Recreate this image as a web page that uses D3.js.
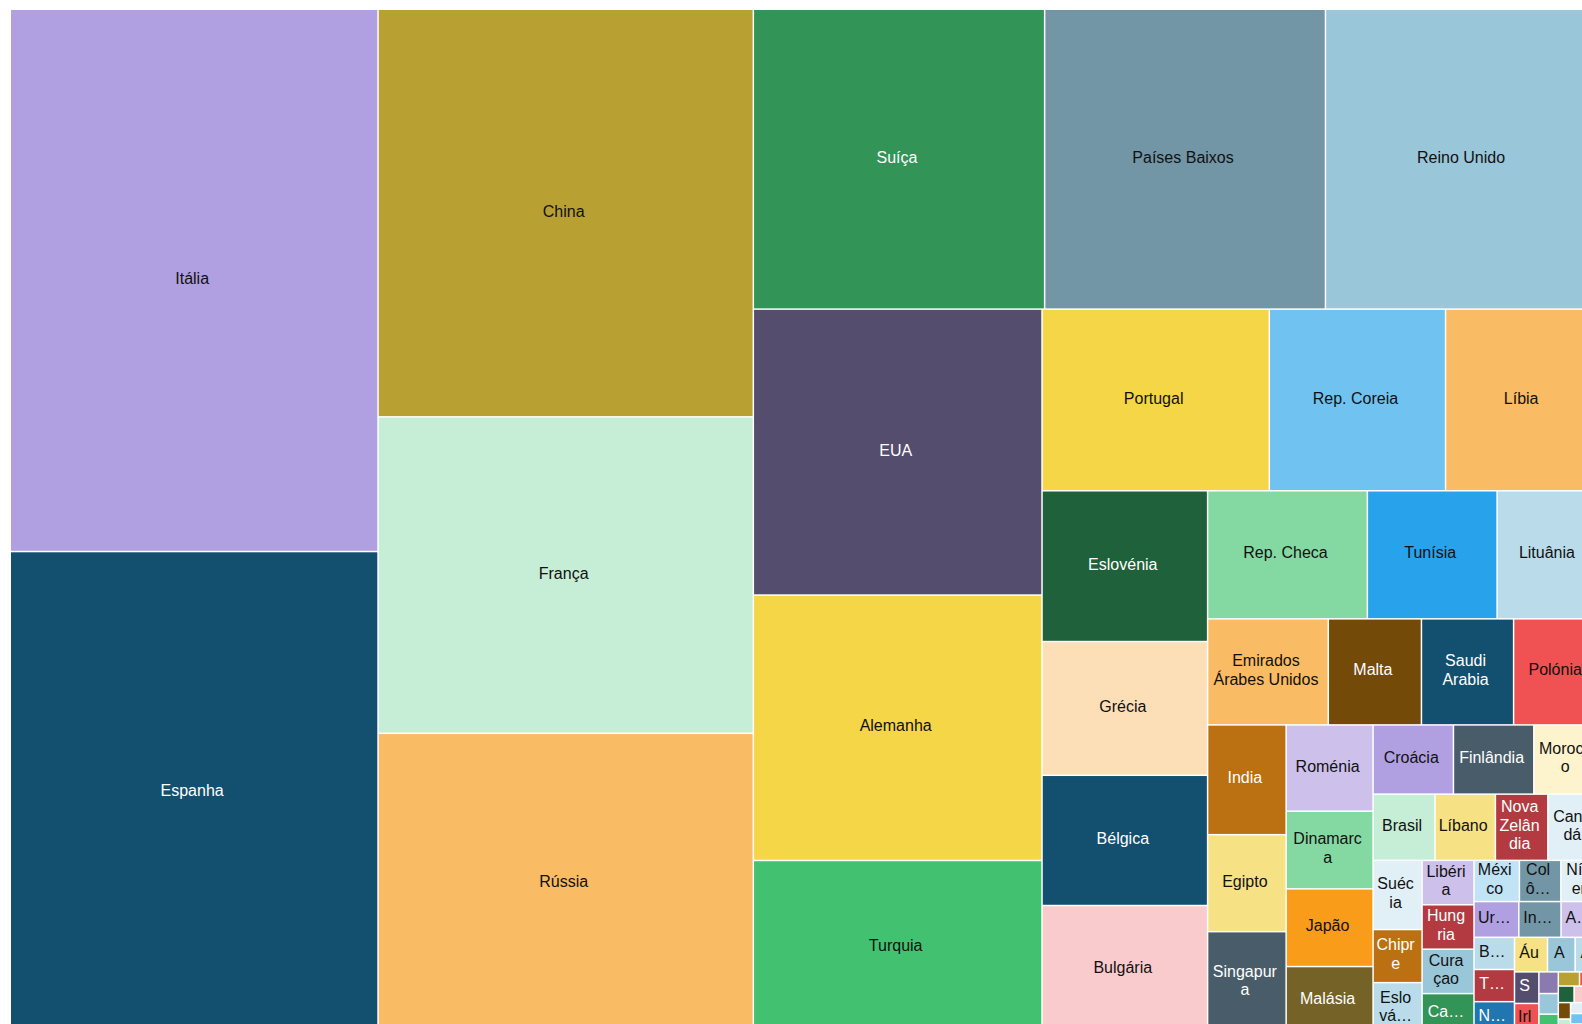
<!DOCTYPE html>
<html>
<head>
<meta charset="utf-8">
<style>
  body { margin: 0; background: #fff; overflow: hidden; }
  svg { display: block; }
  text { font-family: Arial, "Liberation Sans", Helvetica, sans-serif; font-size: 16px; }
</style>
</head>
<body>
<svg width="1582" height="1024"></svg>
<script src="https://cdn.jsdelivr.net/npm/d3@7/dist/d3.min.js"></script>
<script>
var countries = [
  "Itália", "Espanha", "China", "França", "Rússia",
  "Suíça", "Países Baixos", "Reino Unido",
  "EUA", "Alemanha", "Turquia",
  "Portugal", "Rep. Coreia", "Líbia",
  "Eslovénia", "Grécia", "Bélgica", "Bulgária",
  "Rep. Checa", "Tunísia", "Lituânia",
  "Emirados Árabes Unidos", "Malta", "Saudi Arabia", "Polónia",
  "India", "Egipto", "Singapura",
  "Roménia", "Dinamarca", "Japão", "Malásia",
  "Croácia", "Finlândia", "Morocco",
  "Brasil", "Líbano", "Nova Zelândia", "Canadá",
  "Suécia", "Chipre", "Eslováquia",
  "Libéria", "Hungria", "Curaçao", "Cazaquistão",
  "México", "Colômbia", "Níger",
  "Uruguai", "Indonésia", "Argentina",
  "Bósnia", "Tailândia", "Noruega",
  "Áustria", "Angola", "Argélia",
  "Sérvia", "Irlanda",
  "Peru", "Chile", "Qatar", "Israel", "Islândia", "Luxemburgo", "Estónia", "Letónia",
  "Cuba", "Kuwait", "Omã", "Andorra", "Mónaco", "Jordânia", "Quénia", "Gana"
];

var values = [
  199000, 176950, 152625, 118500, 112500,
  87155, 84010, 82364,
  82367, 76453, 49911,
  41200, 31944, 28133,
  24908, 22094, 21515, 21184,
  20416, 16576, 13248,
  12773, 9858, 9752, 9222,
  8600, 7600, 8000,
  7482, 6740, 6740, 5829,
  5550, 5550, 4623,
  4092, 3993, 3465, 3498,
  3381, 2597, 2499,
  2300, 2300, 2300, 2080,
  1866, 1702, 1640,
  1600, 1505, 1418,
  1300, 1300, 1296,
  1139, 952, 884,
  768, 737,
  420, 400, 380, 300, 300, 260, 240, 200,
  200, 180, 170, 160, 160, 150, 150, 150
];

var colors = [
  "#b0a0e1", "#134f6f", "#b8a033", "#c6edd5", "#f9bb63",
  "#329457", "#7296a6", "#9ac6d9",
  "#544d6d", "#f4d647", "#42c270",
  "#f4d647", "#70c3f0", "#f9bb63",
  "#1e613a", "#fcdfb7", "#134f6f", "#f9cbcd",
  "#84d9a2", "#28a2eb", "#badcea",
  "#f9bb63", "#744a09", "#134f6f", "#f05152",
  "#bb7111", "#f6e185", "#485d69",
  "#cdc1ec", "#84d9a2", "#f99c1a", "#756226",
  "#b0a0e1", "#485d69", "#fdf3cd",
  "#c6edd5", "#f6e185", "#b23a40", "#e1eff6",
  "#e1eff6", "#bb7111", "#badcea",
  "#cdc1ec", "#b23a40", "#9ac6d9", "#329457",
  "#c0e3f6", "#7296a6", "#e1eff6",
  "#b0a0e1", "#7296a6", "#cdc1ec",
  "#badcea", "#b23a40", "#2176b0",
  "#f6e185", "#9ac6d9", "#badcea",
  "#544d6d", "#f05152",
  "#8a7ab0", "#9ac6d9", "#42c270", "#b8a033", "#f05152", "#1e613a", "#f9cbcd", "#b0a0e1",
  "#744a09", "#c6edd5", "#e1eff6", "#f4d647", "#70c3f0", "#cdc1ec", "#bb7111", "#84d9a2"
];

var svg = d3.select("svg"),
    margin = {top: 10, left: 11},
    width = 1589,
    height = 1023,
    lineHeight = 18.4,
    padX = 4.5,
    padY = 1;

var data = countries.map(function(name, i) {
  return {name: name, value: values[i], color: colors[i]};
});

var root = d3.hierarchy({children: data})
    .sum(function(d) { return d.value; });

d3.treemap()
    .tile(d3.treemapSquarify.ratio(1))
    .size([width, height])
    .paddingInner(1.5)(root);

var g = svg.append("g")
    .attr("transform", "translate(" + margin.left + "," + margin.top + ")");

var cell = g.selectAll("g")
  .data(root.leaves())
  .enter().append("g")
    .attr("transform", function(d) { return "translate(" + d.x0 + "," + d.y0 + ")"; });

cell.append("rect")
    .attr("width", function(d) { return d.x1 - d.x0; })
    .attr("height", function(d) { return d.y1 - d.y0; })
    .attr("fill", function(d) { return d.data.color; });

// text measuring for the wrapped labels
var ctx = document.createElement("canvas").getContext("2d");
ctx.font = "16px Arial, 'Liberation Sans', sans-serif";
function measure(s) { return ctx.measureText(s).width; }

function wrap(name, w) {
  var lines = [], line = "";
  name.split(" ").forEach(function(word) {
    var test = line ? line + " " + word : word;
    if (measure(test) <= w) { line = test; return; }
    if (line) lines.push(line);
    line = "";
    Array.from(word).forEach(function(ch) {
      if (line && measure(line + ch) > w) { lines.push(line); line = ch; }
      else line += ch;
    });
  });
  if (line) lines.push(line);
  return lines;
}

function labelLines(d) {
  var w = d.x1 - d.x0 - 2 * padX,
      h = d.y1 - d.y0 - 2 * padY,
      maxLines = Math.floor(h / lineHeight);
  if (maxLines < 1 || w <= 0) return [];
  var lines = wrap(d.data.name, w);
  if (measure(lines[0]) > w) return [];
  if (lines.length > maxLines) {
    lines = lines.slice(0, maxLines);
    var cut = lines[maxLines - 1];
    while (cut.length && measure(cut + "\u2026") > w) cut = cut.slice(0, -1);
    if (cut.length) lines[maxLines - 1] = cut + "\u2026";
  }
  return lines;
}

cell.each(function(d) {
  var lines = labelLines(d),
      cx = (d.x1 - d.x0) / 2 - 2,
      cy = (d.y1 - d.y0) / 2,
      fill = d3.lab(d.data.color).l < 56 ? "#fff" : "#111";

  d3.select(this).selectAll("text")
    .data(lines)
    .enter().append("text")
      .attr("x", cx)
      .attr("y", function(t, i) { return cy + 3.6 + (i - (lines.length - 1) / 2) * lineHeight; })
      .attr("text-anchor", "middle")
      .attr("fill", fill)
      .text(function(t) { return t; });
});
</script>
</body>
</html>
